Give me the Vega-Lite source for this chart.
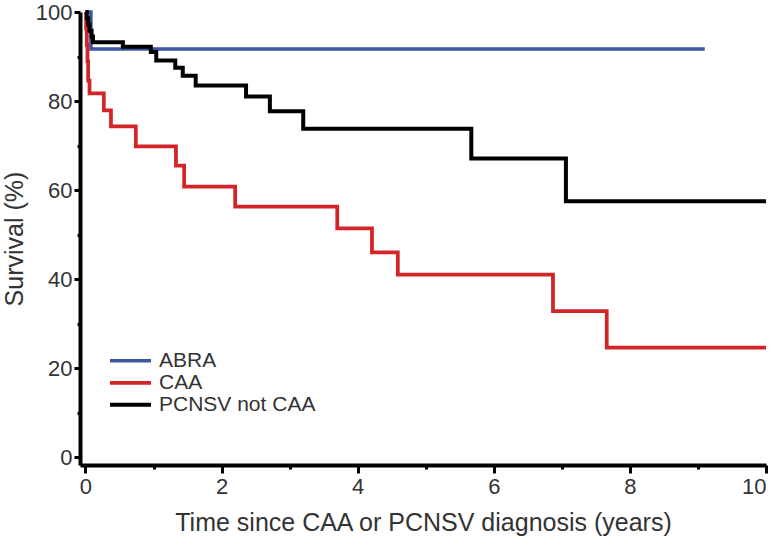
{
  "$schema": "https://vega.github.io/schema/vega-lite/v6.json",
  "width": 686,
  "height": 453,
  "autosize": {"type": "none"},
  "padding": {"left": 80, "top": 12, "right": 10, "bottom": 83},
  "background": "white",
  "config": {
    "view": {"stroke": null},
    "font": "Liberation Sans",
    "axis": {"grid": false, "domainColor": "#000000", "domainWidth": 4, "tickColor": "#000000", "tickWidth": 3, "labelColor": "#333333", "titleColor": "#333333", "labelFont": "Liberation Sans", "titleFont": "Liberation Sans", "titleFontWeight": "normal", "labelFontSize": 22, "titleFontSize": 25}
  },
  "data": {
    "values": [
      {"group": "ABRA", "t": 0, "s": 100},
      {"group": "ABRA", "t": 0.08, "s": 91.7},
      {"group": "ABRA", "t": 9.1, "s": 91.7},
      {"group": "CAA", "t": 0, "s": 100},
      {"group": "CAA", "t": 0.01, "s": 96.3},
      {"group": "CAA", "t": 0.02, "s": 92.6},
      {"group": "CAA", "t": 0.03, "s": 88.9},
      {"group": "CAA", "t": 0.04, "s": 84.6},
      {"group": "CAA", "t": 0.06, "s": 81.7},
      {"group": "CAA", "t": 0.27, "s": 77.9},
      {"group": "CAA", "t": 0.375, "s": 74.3},
      {"group": "CAA", "t": 0.74, "s": 69.8},
      {"group": "CAA", "t": 1.33, "s": 65.5},
      {"group": "CAA", "t": 1.45, "s": 60.8},
      {"group": "CAA", "t": 2.2, "s": 56.3},
      {"group": "CAA", "t": 3.7, "s": 51.4},
      {"group": "CAA", "t": 4.21, "s": 46.0},
      {"group": "CAA", "t": 4.59, "s": 41.0},
      {"group": "CAA", "t": 6.87, "s": 32.8},
      {"group": "CAA", "t": 7.66, "s": 24.6},
      {"group": "CAA", "t": 10, "s": 24.6},
      {"group": "PCNSV not CAA", "t": 0, "s": 100},
      {"group": "PCNSV not CAA", "t": 0.02, "s": 98.6},
      {"group": "PCNSV not CAA", "t": 0.04, "s": 97.2},
      {"group": "PCNSV not CAA", "t": 0.06, "s": 95.8},
      {"group": "PCNSV not CAA", "t": 0.09, "s": 94.5},
      {"group": "PCNSV not CAA", "t": 0.11, "s": 93.2},
      {"group": "PCNSV not CAA", "t": 0.55, "s": 92.2},
      {"group": "PCNSV not CAA", "t": 0.96, "s": 91.0},
      {"group": "PCNSV not CAA", "t": 1.04, "s": 89.1},
      {"group": "PCNSV not CAA", "t": 1.32, "s": 87.5},
      {"group": "PCNSV not CAA", "t": 1.43, "s": 85.7},
      {"group": "PCNSV not CAA", "t": 1.62, "s": 83.5},
      {"group": "PCNSV not CAA", "t": 2.36, "s": 81.0},
      {"group": "PCNSV not CAA", "t": 2.71, "s": 77.7},
      {"group": "PCNSV not CAA", "t": 3.2, "s": 73.8},
      {"group": "PCNSV not CAA", "t": 5.67, "s": 67.1},
      {"group": "PCNSV not CAA", "t": 7.06, "s": 57.5},
      {"group": "PCNSV not CAA", "t": 10, "s": 57.5}
    ]
  },
  "mark": {"type": "line", "interpolate": "step-after", "strokeCap": "butt"},
  "encoding": {
    "x": {
      "field": "t", "type": "quantitative",
      "scale": {"domain": [-0.08, 10], "nice": false, "zero": false},
      "axis": {
        "title": "Time since CAA or PCNSV diagnosis (years)",
        "values": [0, 1, 2, 3, 4, 5, 6, 7, 8, 9, 10],
        "labelExpr": "datum.value % 2 === 0 ? datum.label : ''",
        "tickSize": {"condition": {"test": "datum.value % 2 === 0", "value": 8}, "value": 4},
        "labelPadding": 3,
        "titlePadding": 13
      }
    },
    "y": {
      "field": "s", "type": "quantitative",
      "scale": {"domain": [-1.75, 100], "nice": false, "zero": false},
      "axis": {
        "title": "Survival (%)",
        "values": [0, 10, 20, 30, 40, 50, 60, 70, 80, 90, 100],
        "labelExpr": "datum.value % 20 === 0 ? datum.label : ''",
        "tickSize": {"condition": {"test": "datum.value % 20 === 0", "value": 6}, "value": 3},
        "labelPadding": 2,
        "titlePadding": 8
      }
    },
    "color": {
      "field": "group", "type": "nominal",
      "scale": {"domain": ["ABRA", "CAA", "PCNSV not CAA"], "range": ["#3d55a5", "#d3242a", "#000000"]},
      "legend": {
        "title": null, "orient": "none", "legendX": 28, "legendY": 339,
        "symbolType": "stroke", "symbolSize": 1681, "symbolStrokeWidth": 4,
        "clipHeight": 19.7, "rowPadding": 0, "padding": 0,
        "labelFontSize": 21, "labelColor": "#333333", "labelFont": "Liberation Sans", "labelOffset": 6, "labelLimit": 400
      }
    },
    "strokeWidth": {
      "field": "group", "type": "nominal",
      "scale": {"domain": ["ABRA", "CAA", "PCNSV not CAA"], "range": [3.5, 4, 4]},
      "legend": null
    }
  }
}
